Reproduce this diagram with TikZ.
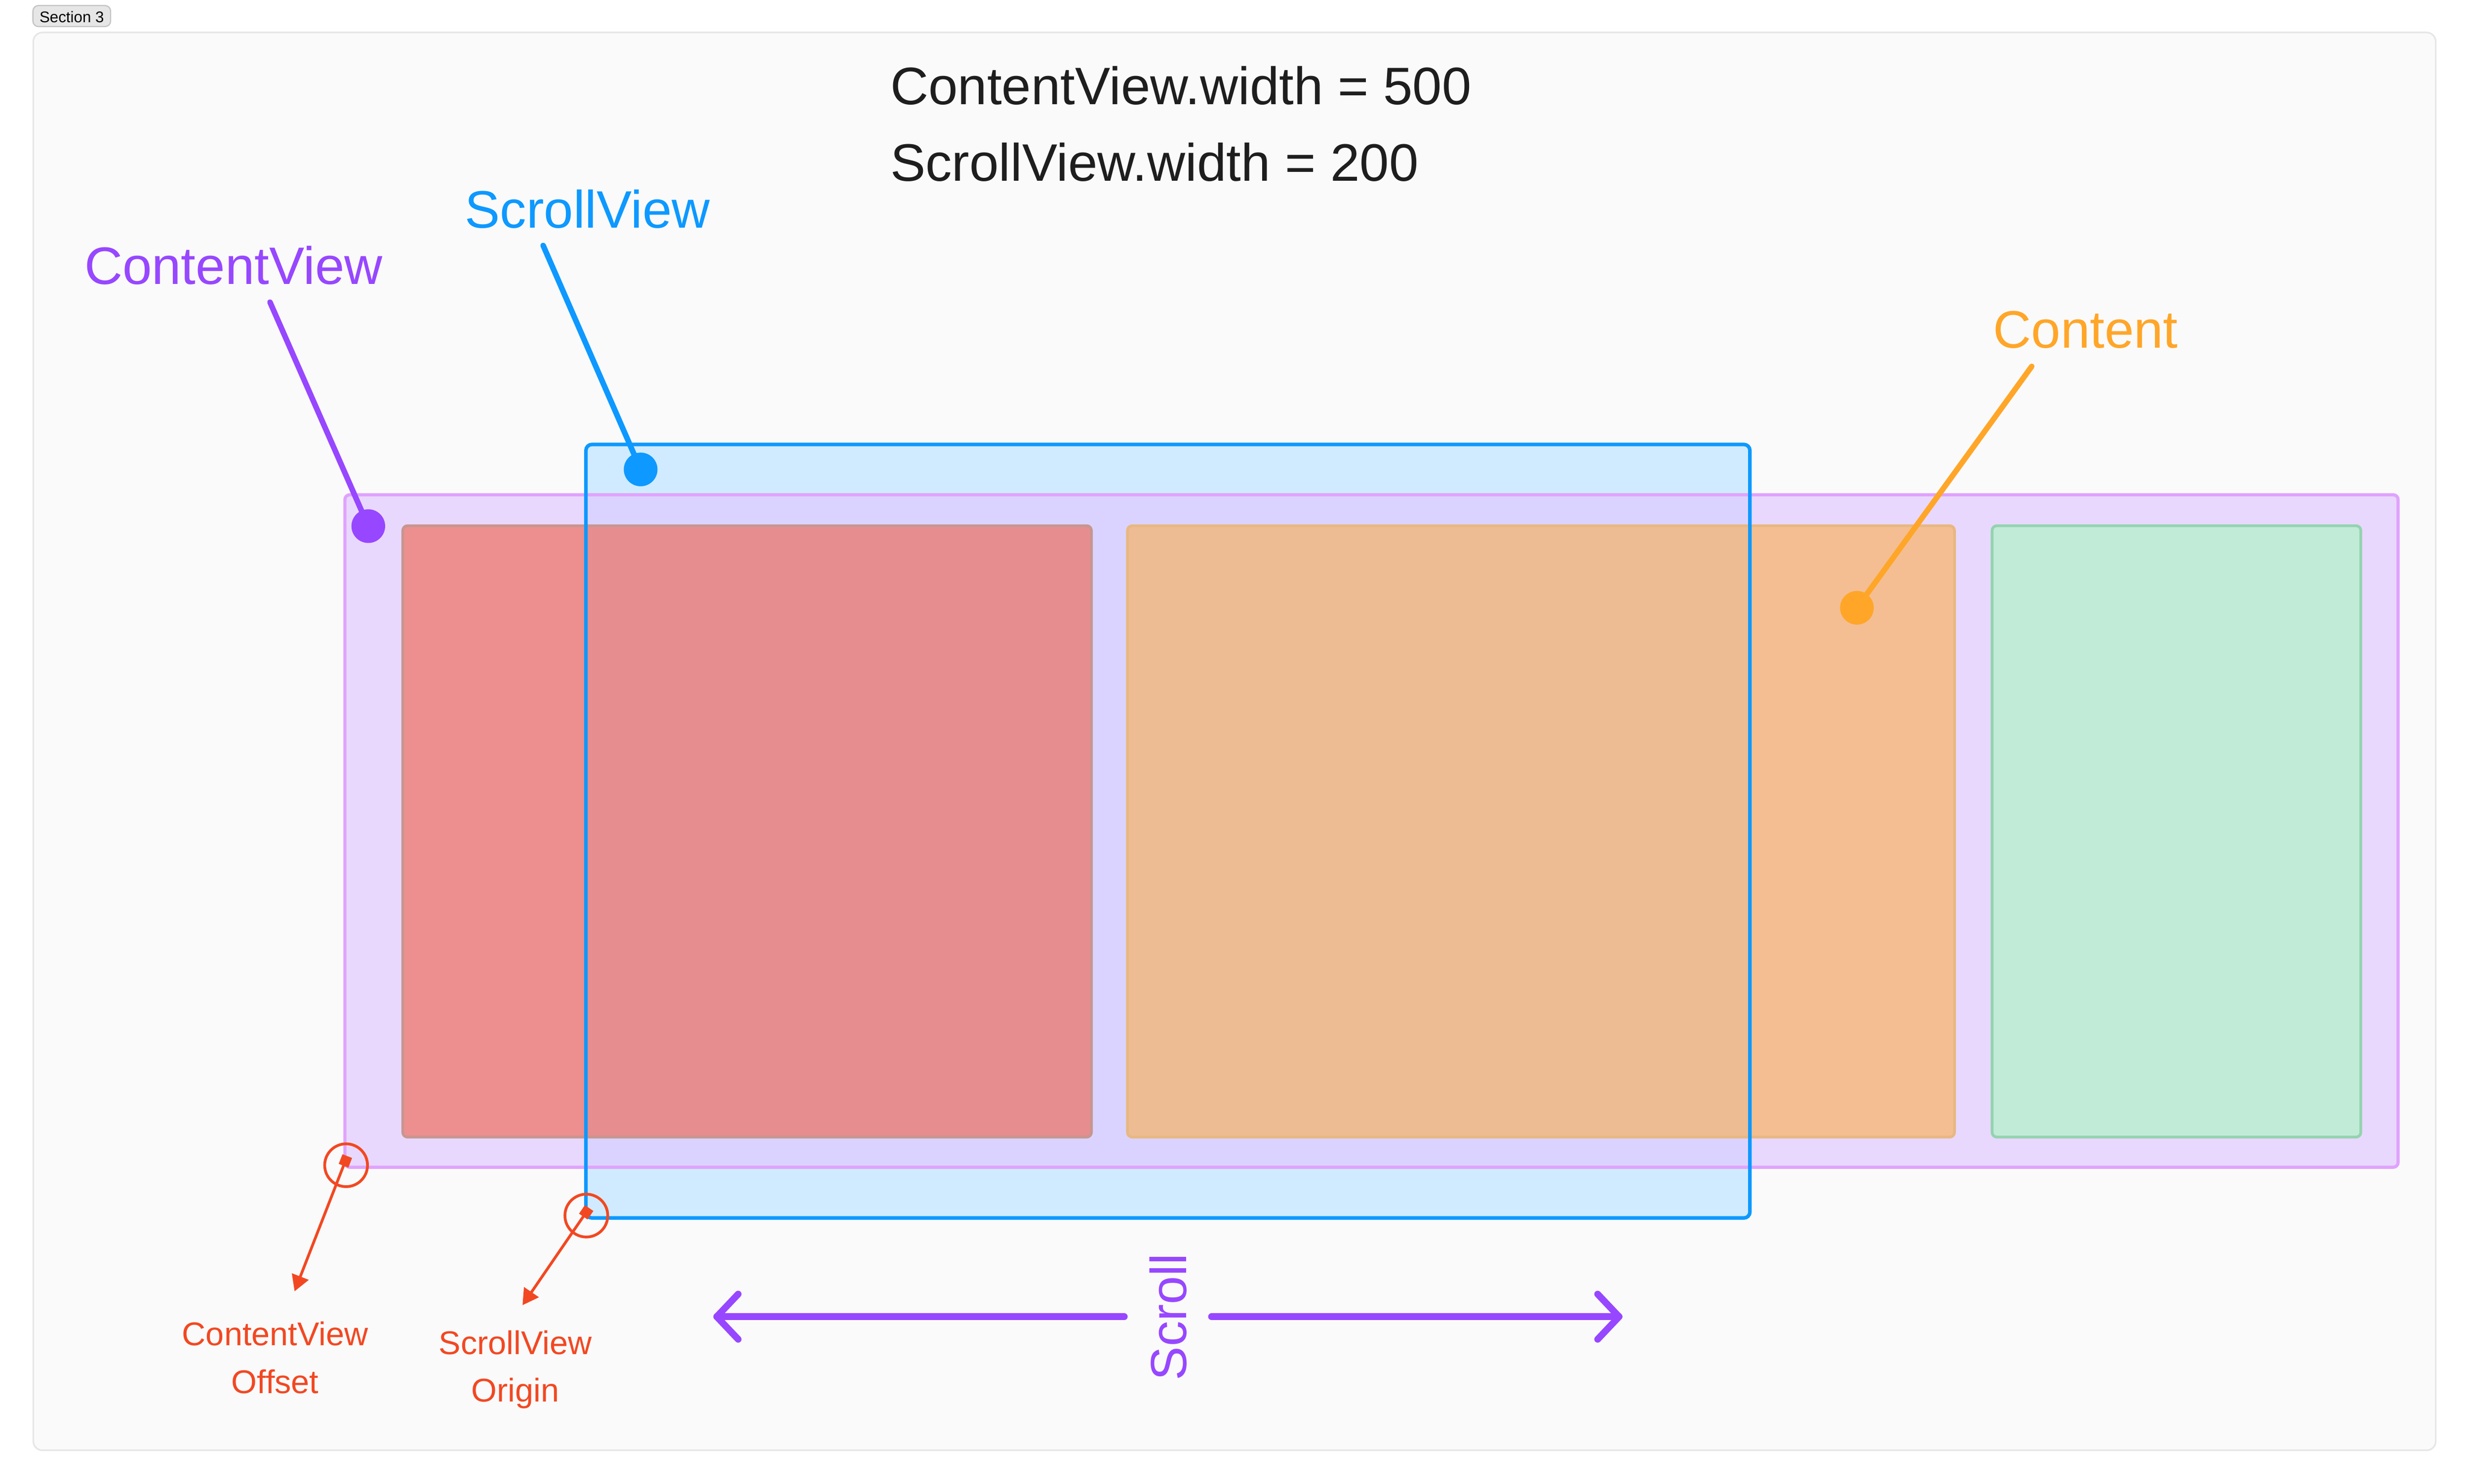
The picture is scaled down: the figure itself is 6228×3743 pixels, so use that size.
\documentclass[tikz,border=0pt]{standalone}
\usepackage{fontspec}
\setmainfont{Liberation Sans}
\usetikzlibrary{arrows.meta}
\definecolor{cPurple}{HTML}{9747FF}
\definecolor{cBlue}{HTML}{0D99FF}
\definecolor{cBlueF}{HTML}{D0EBFF}
\definecolor{cOrange}{HTML}{FFA629}
\definecolor{cRed}{HTML}{F24822}
\definecolor{cGreenF}{RGB}{154,255,178}
\definecolor{cCVF}{RGB}{225,199,255}
\definecolor{cCVS}{HTML}{E0A3FD}
\definecolor{cRedS}{RGB}{200,150,144}
\definecolor{cOrangeS}{RGB}{232,184,130}
\definecolor{cGreenS}{RGB}{147,211,176}
\definecolor{cFrame}{HTML}{FAFAFA}
\definecolor{cFrameS}{HTML}{E6E6E6}
\definecolor{cTag}{HTML}{E6E6E6}
\definecolor{cTagS}{HTML}{C4C4C4}
\definecolor{cTitle}{HTML}{1E1E1E}
\begin{document}
\begin{tikzpicture}[x=1pt,y=-1pt,
  bigtxt/.style={font=\fontsize{133}{150}\selectfont, inner sep=0pt, anchor=base},
  redtxt/.style={font=\fontsize{83}{120}\selectfont, text=cRed, align=center, inner sep=0pt, anchor=base},
  dot/.style={circle, inner sep=0pt, minimum size=85pt},
  leader/.style={line width=14pt, line cap=round},
  contentbox/.style={rounded corners=12pt, line width=7pt},
  ring/.style={circle, draw=cRed, line width=7pt, inner sep=0pt, minimum size=108pt},
  pointer/.style={draw=cRed, line width=7pt, {Square[length=26pt,width=26pt]}-{Triangle[length=40pt,width=44pt]}},
  scrollline/.style={draw=cPurple, line width=17pt, line cap=round, line join=round}
]
% page and bounding box
\fill[white] (0,0) rectangle (6228,3743);
\useasboundingbox (0,0) rectangle (6228,3743);
% frame
\draw[fill=cFrame, draw=cFrameS, line width=4pt, rounded corners=23pt] (84,82) rectangle (6144,3658);
% section tag
\draw[fill=cTag, draw=cTagS, line width=3pt, rounded corners=14pt] (83,14) rectangle (279,67);
\node[font=\fontsize{39}{40}\selectfont, anchor=base, inner sep=0pt] (tag) at (181,57) {Section 3};
% titles
\node[bigtxt, anchor=base west, text=cTitle] (t1) at (2246,264) {ContentView.width = 500};
\node[bigtxt, anchor=base west, text=cTitle] (t2) at (2246,456) {ScrollView.width = 200};
% scrollview fill (below)
\fill[cBlueF, rounded corners=15pt] (1478,1121) rectangle (4414,3072);
% content view
\fill[cCVF, fill opacity=0.65, rounded corners=12pt] (870,1248) rectangle (6049,2944);
\draw[cCVS, line width=8pt, rounded corners=12pt] (870,1248) rectangle (6049,2944);
% content rects
\fill[cRed, fill opacity=0.5, rounded corners=12pt] (1016,1326) rectangle (2753,2868);
\draw[cRedS, contentbox] (1016,1326) rectangle (2753,2868);
\fill[cOrange, fill opacity=0.5, rounded corners=12pt] (2844,1326) rectangle (4930,2868);
\draw[cOrangeS, contentbox] (2844,1326) rectangle (4930,2868);
\fill[cGreenF, fill opacity=0.5, rounded corners=12pt] (5025,1326) rectangle (5955,2868);
\draw[cGreenS, contentbox] (5025,1326) rectangle (5955,2868);
% scrollview stroke
\draw[cBlue, line width=9pt, rounded corners=15pt] (1478,1121) rectangle (4414,3072);
% labels with leaders
\node[bigtxt, text=cPurple] (cvlabel) at (589,717) {ContentView};
\node[bigtxt, text=cBlue] (svlabel) at (1482,575) {ScrollView};
\node[bigtxt, text=cOrange] (ctlabel) at (5261,877) {Content};
\coordinate (cvtop) at (681,762);
\coordinate (svtop) at (1370,619);
\coordinate (cttop) at (5125,924);
\node[dot, fill=cPurple] (cvdot) at (929,1327) {};
\node[dot, fill=cBlue] (svdot) at (1616,1184) {};
\node[dot, fill=cOrange] (ctdot) at (4684,1533) {};
\draw[leader, cPurple] (cvtop) -- (cvdot.center);
\draw[leader, cBlue] (svtop) -- (svdot.center);
\draw[leader, cOrange] (cttop) -- (ctdot.center);
% red markers
\node[ring] (offring) at (873,2939) {};
\node[ring] (orgring) at (1479,3066) {};
\coordinate (offs) at (876,2916);
\coordinate (offe) at (743,3257);
\coordinate (orgs) at (1486,3047);
\coordinate (orge) at (1318,3292);
\draw[pointer] (offs) -- (offe);
\draw[pointer] (orgs) -- (orge);
\node[redtxt] (offlbl) at (694,3514) {ContentView\\Offset};
\node[redtxt] (orglbl) at (1300,3536) {ScrollView\\Origin};
% scroll arrow
\coordinate (sL) at (1808,3321);
\coordinate (sLe) at (2836,3321);
\coordinate (sRs) at (3056,3321);
\coordinate (sR) at (4084,3321);
\coordinate (sLa) at (1862,3264);
\coordinate (sLb) at (1862,3378);
\coordinate (sRa) at (4030,3264);
\coordinate (sRb) at (4030,3378);
\draw[scrollline] (sL) -- (sLe);
\draw[scrollline] (sRs) -- (sR);
\draw[scrollline] (sLa) -- (sL) -- (sLb);
\draw[scrollline] (sRa) -- (sR) -- (sRb);
\node[bigtxt, rotate=90, text=cPurple, font=\fontsize{128}{150}\selectfont] (scrolltxt) at (2992,3322) {Scroll};
\end{tikzpicture}
\end{document}
